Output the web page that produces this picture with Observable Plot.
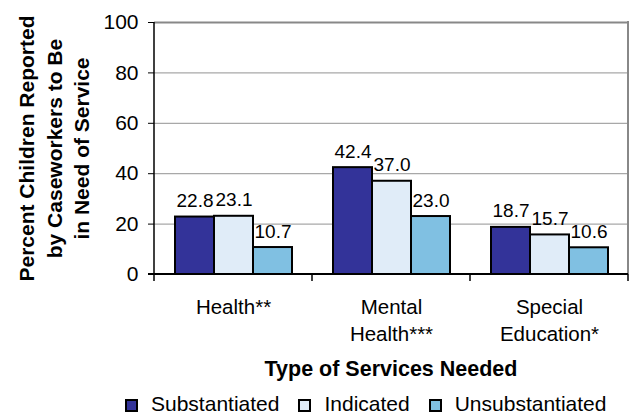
<!DOCTYPE html>
<html>
<head>
<meta charset="utf-8">
<script src="https://cdn.jsdelivr.net/npm/d3@7"></script>
<script src="https://cdn.jsdelivr.net/npm/@observablehq/plot@0.6"></script>
<style>
  html, body { margin: 0; padding: 0; background: #fff; }
  body { width: 632px; height: 414px; position: relative; overflow: hidden;
         font-family: "Liberation Sans", Arial, sans-serif; color: #000; }
  #chart { position: absolute; left: 0; top: 0; }
  #ytitle { position: absolute; left: -96px; top: 106.5px; width: 300px; height: 83px;
            transform: rotate(-90deg); transform-origin: 50% 50%;
            text-align: center; font-weight: bold; font-size: 21px; line-height: 27.5px; white-space: nowrap; }
  #xtitle { position: absolute; left: 154px; width: 474px; top: 359px; text-align: center;
            font-weight: bold; font-size: 21.5px; line-height: 20px; }
  #legend { position: absolute; left: 125px; top: 394px; display: flex; align-items: center;
            font-size: 21px; line-height: 20px; white-space: nowrap; }
  #legend .item { display: flex; align-items: center; margin-right: 19px; }
  #legend .sw { width: 9px; height: 9px; border: 2px solid #000; margin-right: 13px; margin-top: 3px; }
</style>
</head>
<body>
<div id="chart"></div>
<div id="ytitle"></div>
<div id="xtitle">Type of Services Needed</div>
<div id="legend"></div>
<script>
const categories = ["Health**", "Mental Health***", "Special Education*"];
const categoryLabels = ["Health**", "Mental\nHealth***", "Special\nEducation*"];
const series = ["Substantiated", "Indicated", "Unsubstantiated"];
const substantiated = [22.8, 42.4, 18.7];
const indicated = [23.1, 37.0, 15.7];
const unsubstantiated = [10.7, 23.0, 10.6];
const colors = ["#333399", "#E0ECF8", "#80C0E2"];
const yTicks = [0, 20, 40, 60, 80, 100];
const yLabelLines = ["Percent Children Reported", "by Caseworkers to Be", "in Need of Service"];

const valuesBySeries = [substantiated, indicated, unsubstantiated];
const data = [];
categories.forEach((c, i) => {
  series.forEach((s, j) => {
    data.push({category: c, series: s, value: valuesBySeries[j][i]});
  });
});
const labelOf = new Map(categories.map((c, i) => [c, categoryLabels[i]]));

const chart = Plot.plot({
  width: 632,
  height: 346,
  marginLeft: 154,
  marginRight: 4,
  marginTop: 22,
  marginBottom: 72,
  style: {fontFamily: "'Liberation Sans', Arial, sans-serif", fontSize: "20px", color: "#000", background: "#fff", overflow: "visible"},
  fx: {domain: categories, padding: 0, label: null},
  x: {domain: series, paddingInner: 0, paddingOuter: 0.51, axis: null},
  y: {domain: [0, 100], label: null},
  color: {domain: series, range: colors},
  marks: [
    Plot.gridY(yTicks.filter(d => d > 0 && d < 100), {stroke: "#a8a8a8", strokeOpacity: 1, strokeWidth: 1.3}),
    Plot.ruleY([100], {stroke: "#888", strokeWidth: 2}),
    Plot.axisY(yTicks, {tickSize: 6, tickPadding: 10, fontSize: 21, label: null, stroke: "#000"}),
    Plot.axisFx({anchor: "bottom", tickSize: 0, tickPadding: 20, fontSize: 20.5, lineHeight: 1.32, tickFormat: d => labelOf.get(d), label: null}),
    Plot.barY(data, {fx: "category", x: "series", y: "value", fill: "series", stroke: "#000", strokeWidth: 2}),
    Plot.text(data, {fx: "category", x: "series", y: "value", text: d => d.value.toFixed(1), dy: -10, lineAnchor: "bottom", fontSize: 19})
  ]
});
document.getElementById("chart").appendChild(chart);

// axis lines and category separator ticks, from Plot's own scales
const fxs = chart.scale("fx");
const ys = chart.scale("y");
const x0 = fxs.range[0], x1 = fxs.range[1];
const step = (x1 - x0) / fxs.domain.length;
const yBottom = ys.range[0], yTop = ys.range[1];
const svg = d3.select(chart.tagName.toLowerCase() === "svg" ? chart : chart.querySelector("svg"));
const g = svg.append("g");
g.append("line").attr("x1", x1).attr("x2", x1).attr("y1", yTop - 1).attr("y2", yBottom)
  .attr("stroke", "#888").attr("stroke-width", 2);
g.append("line").attr("x1", x0).attr("x2", x0).attr("y1", yTop).attr("y2", yBottom)
  .attr("stroke", "#000").attr("stroke-width", 1.5);
g.append("line").attr("x1", x0 - 6).attr("x2", x1).attr("y1", yBottom).attr("y2", yBottom)
  .attr("stroke", "#000").attr("stroke-width", 2);
d3.range(fxs.domain.length + 1).forEach(i => {
  const xx = x0 + i * step;
  g.append("line").attr("x1", xx).attr("x2", xx).attr("y1", yBottom).attr("y2", yBottom + 7)
    .attr("stroke", "#000").attr("stroke-width", 1.5);
});

// y title
const yt = d3.select("#ytitle");
yLabelLines.forEach(l => yt.append("div").text(l));

// legend
const legend = d3.select("#legend");
series.forEach((s, i) => {
  const item = legend.append("div").attr("class", "item");
  item.append("div").attr("class", "sw").style("background", colors[i]);
  item.append("span").text(s);
});
</script>
</body>
</html>
